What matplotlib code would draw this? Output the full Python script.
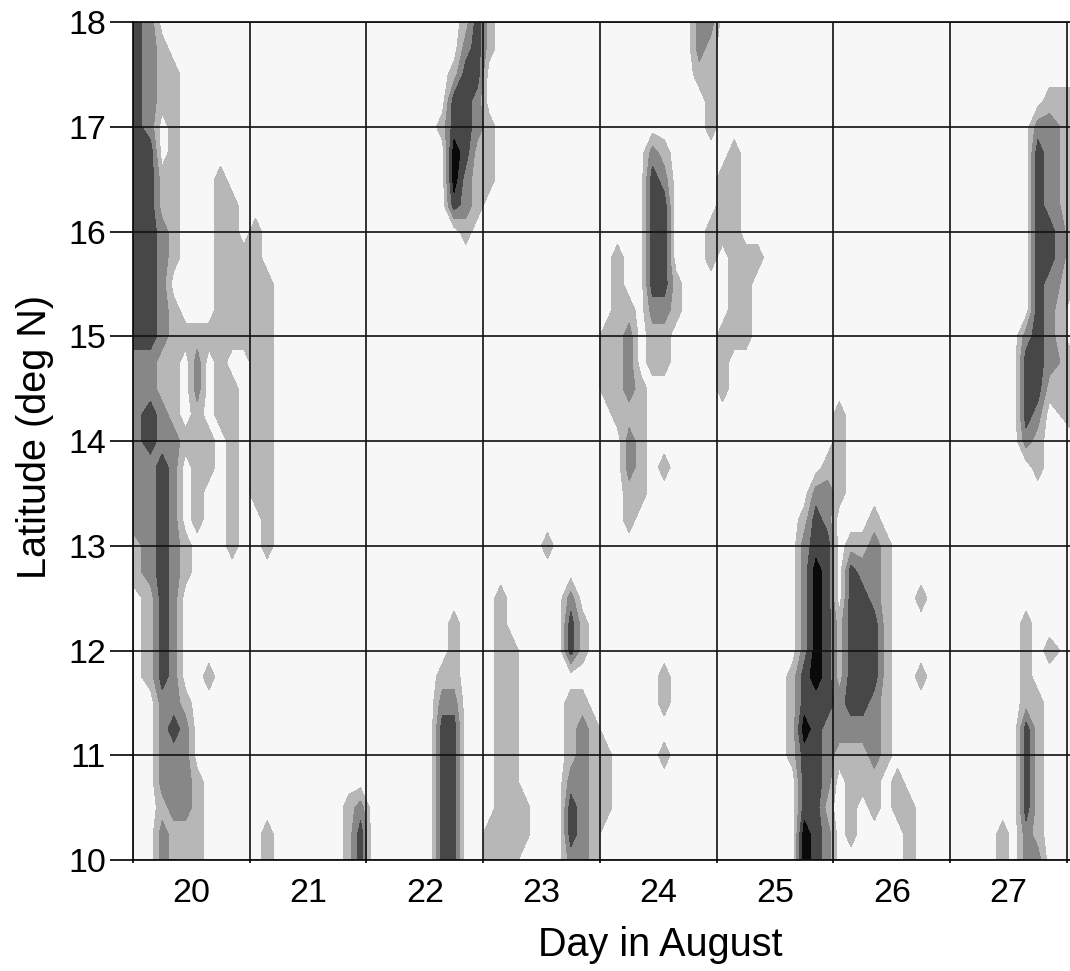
import matplotlib
matplotlib.use("Agg")
import matplotlib.pyplot as plt
import numpy as np

# contour class, one row per latitude (18 down to 10 in 0.25 steps)
# each block is one day from grid line to grid line, ten cells of 0.1 day, "0" = empty day
ROWS = [
    "3200000000 0 0000000013 1000000000 0000000022 0 0 0",
    "3210000000 0 0000000023 1000000000 0000000021 0 0 0",
    "3211000000 0 0000000133 0 0000000011 0 0 0",
    "3211000000 0 0000000332 0 0000000001 0 0 0000000011",
    "3201000000 0 0000001332 1000000000 0000000001 0 0 0000000221",
    "3301000000 0 0000000431 1000000000 0000210000 0100000000 0 0000000321",
    "3311000100 0 0000000421 1000000000 0000320000 1100000000 0 0000000321",
    "3311000110 0 0000000321 0 0000330000 1100000000 0 0000000321",
    "3321000110 1000000000 0000000010 0 0000330001 1100000000 0 0000000331",
    "3321000111 1000000000 0 0 0100330001 0111000000 0 0000000331",
    "3320000111 1100000000 0 0 0100331000 0110000000 0 0000000321",
    "3321000111 1100000000 0 0 0110221000 0110000000 0 0000000320",
    "3321111111 1100000000 0 0 1120110000 1110000000 0 0000002320",
    "2211020100 1100000000 0 0 1120110000 1000000000 0 0000003321",
    "2211020110 1100000000 0 0 1121000000 1000000000 0 0000003311",
    "2321010110 1100000000 0 0 0111000000 0 1000000000 0000003201",
    "2322111010 1100000000 0 0 0021000000 0 1000000000 0000002100",
    "2232011010 1100000000 0 0 0021010000 0000000001 1000000000 0000000100",
    "2232010010 1100000000 0 0 0011000000 0000000022 1000000000 0",
    "2232010010 0100000000 0 0 0010000000 0000000132 0001000000 0",
    "1232100010 0100000000 0 0000010000 0 0000000233 0112100000 0",
    "1232100000 0 0 0 0 0000000243 0322100000 0",
    "0132000000 0 0 0100000200 0 0000000243 0332100100 0",
    "0132000000 0 0000000100 0100000310 0 0000000243 1333100000 0000001000",
    "0132000000 0 0000000100 0110000310 0 0000000243 1333100000 0000001010",
    "0132001000 0 0000001100 0110000000 0000010000 0000001343 1333100100 0000001000",
    "0022100000 0 0000002200 0110000110 0000010000 0000001333 2332100000 0000001100",
    "0023200000 0 0000003300 0110000121 0 0000001432 2222100000 0000003100",
    "0022200000 0 0000003300 0110000121 1000010000 0000001332 1112100000 0000003100",
    "0022210000 0 0000003300 0110000221 1000000000 0000000332 0111010000 0000003100",
    "0012210000 0000000012 0000003300 0111000321 1000000000 0000000331 0101011000 0000003100",
    "0021110000 0100000013 0000003300 1111000321 0 0000000432 0100001000 0000102100",
    "0021110000 0100000013 0000003300 1110000221 0 0000000432 0000001000 0000102200",
]
LATS = np.arange(18, 9.75, -0.25)
DAY_TICKS = [20, 21, 22, 23, 24, 25, 26, 27]
LAT_TICKS = [10, 11, 12, 13, 14, 15, 16, 17, 18]
SHADES = ["#f7f7f7", "#b7b7b7", "#878787", "#474747", "#0a0a0a"]
BOUNDS = [-1, 0.5, 1.5, 2.5, 3.5, 5]


def parse_rows(rows):
    out = []
    for row in rows:
        cells = "".join(block.ljust(10, "0") for block in row.split())
        out.append([int(c) for c in cells])
    return np.array(out, dtype=float)


plt.rcParams["font.family"] = ["Liberation Sans", "DejaVu Sans"]

z = parse_rows(ROWS)
days = 19.55 + 0.1 * np.arange(z.shape[1])
days[0] = 19.5
days[-1] = 27.53

fig = plt.figure(figsize=(10.7, 9.71), dpi=100)
ax = fig.add_axes([133 / 1070, 1 - 860 / 971, 937 / 1070, 838 / 971])
ax.contourf(days, LATS, z, levels=BOUNDS, colors=SHADES)

ax.set_xlim(19.5, 27.526)
ax.set_ylim(10, 18)
ax.set_xticks(DAY_TICKS)
ax.set_xticks(np.arange(19.5, 28, 1), minor=True)
ax.set_yticks(LAT_TICKS)
ax.tick_params(axis="x", which="major", length=0, labelsize=24.5, pad=13)
ax.tick_params(axis="x", which="minor", length=2, width=1.2)
ax.tick_params(axis="y", length=16.5, width=1.2, labelsize=24.5, pad=3)
ax.grid(True, which="minor", axis="x", color="#111111", lw=1.2)
ax.grid(True, which="major", axis="y", color="#111111", lw=1.2)
ax.set_axisbelow(False)
for side in ax.spines.values():
    side.set_linewidth(1.2)
ax.spines["right"].set_visible(False)

fig.text(660 / 1070, 1 - 945 / 971, "Day in August", fontsize=28.5, ha="center", va="center")
fig.text(35 / 1070, 1 - 437 / 971, "Latitude (deg N)", fontsize=28.5, rotation=90, ha="center", va="center")

fig.savefig("out.png", dpi=100)
